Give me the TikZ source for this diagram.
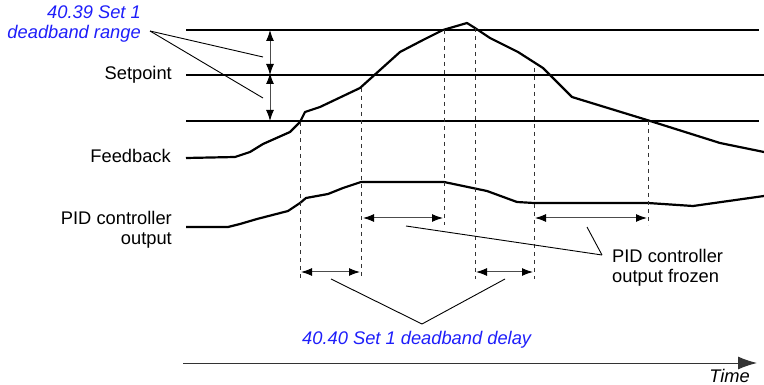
\documentclass[tikz,border=0pt]{standalone}
\usepackage{fontspec}
\setmainfont{Liberation Sans}
\usetikzlibrary{arrows.meta, positioning}
\definecolor{parblue}{RGB}{30,30,250}

\begin{document}
\begin{tikzpicture}[
  x=1pt, y=-1pt, font=\fontsize{18.3}{20.5}\selectfont,
  level/.style  ={line width=1.6pt},
  setline/.style={line width=2.6pt},
  signal/.style ={line width=2.2pt, line join=round},
  guide/.style  ={dash pattern=on 4pt off 4pt, line width=0.8pt, black!80},
  leader/.style ={line width=0.9pt},
  span/.style   ={{Latex[length=11pt,width=8pt,color=black]}-{Latex[length=11pt,width=8pt,color=black]},
                  line width=1pt, black!70},
  axis/.style   ={-{Latex[length=19pt,width=13pt]}, line width=1pt, black!80},
  lbl/.style    ={inner sep=0pt},
  parm/.style   ={text=parblue, font=\fontsize{18.3}{20.5}\selectfont\itshape},
]
  \useasboundingbox (0,0) rectangle (764,385);

  % deadband limits and setpoint
  \draw[level]   (186,30)  -- (759,30);
  \draw[setline] (186,75)  -- (764,75);
  \draw[level]   (186,121) -- (759,121);

  % feedback and controller output
  \draw[signal] (186,158) -- (235,157) -- (250,152) -- (263,144) -- (290,132) -- (300,122)
    -- (305,112) -- (320,107) -- (360,88) -- (380,70) -- (400,52) -- (423,40) -- (443,30)
    -- (467,23) -- (475,28) -- (490,38) -- (518,52) -- (543,68) -- (558,83) -- (572,97)
    -- (647,120) -- (720,143) -- (764,152);
  \draw[signal] (186,227) -- (228,227) -- (240,224) -- (257,219) -- (288,211) -- (300,203)
    -- (306,198) -- (328,194) -- (343,188) -- (361,182) -- (444,182) -- (487,191)
    -- (517,202) -- (534,203) -- (648,203) -- (693,206) -- (764,196);

  % instants
  \foreach \x/\top/\bot in {300/122/279, 361/88/279, 444/30/225, 475/28/279, 534/68/279, 648/121/225}
    \draw[guide] (\x,\top) -- (\x,\bot);

  % range arrows
  \coordinate (r1) at (270,30);  \coordinate (r2) at (270,75);  \coordinate (r3) at (270,121);
  \draw[span] (r1) -- (r2);
  \draw[span] ([yshift=2pt]r2) -- (r3);

  % frozen and delay intervals
  \coordinate (f1a) at (363,218); \coordinate (f1b) at (443,218);
  \coordinate (f2a) at (535,218); \coordinate (f2b) at (647,218);
  \coordinate (d1a) at (301,272); \coordinate (d1b) at (360,272);
  \coordinate (d2a) at (476,272); \coordinate (d2b) at (533,272);
  \draw[span] (f1a) -- (f1b);  \draw[span] (f2a) -- (f2b);
  \draw[span] (d1a) -- (d1b);  \draw[span] (d2a) -- (d2b);

  % labels
  \node[lbl, parm, align=right, anchor=base east] (range) at (141,39) {40.39 Set 1\\deadband range};
  \node[lbl, anchor=base east] (setp) at (172,80)  {Setpoint};
  \node[lbl, anchor=base east] (fb)   at (171,163) {Feedback};
  \node[lbl, align=right, anchor=base east] (pid) at (172,245) {PID controller\\output};
  \node[lbl, align=left, anchor=base west] (frozen) at (612,283) {PID controller\\output frozen};
  \node[lbl, parm, anchor=base west] (delay) at (302,344) {40.40 Set 1 deadband delay};
  \node[lbl, anchor=base east, font=\fontsize{18.3}{20.5}\selectfont\itshape] (time) at (750,382) {Time};

  % leaders
  \coordinate (rangetip) at (150,31);
  \draw[leader] (rangetip) -- (263,57);
  \draw[leader] (rangetip) -- (263,98);
  \coordinate (frozentip) at (602,255);
  \draw[leader] (frozentip) -- (406,226);
  \draw[leader] (frozentip) -- (587,227);
  \coordinate (delaytip) at (422,324);
  \draw[leader] (delaytip) -- (331,279);
  \draw[leader] (delaytip) -- (505,279);

  % time axis
  \draw[axis] (183,363) -- (757,363);
\end{tikzpicture}
\end{document}
